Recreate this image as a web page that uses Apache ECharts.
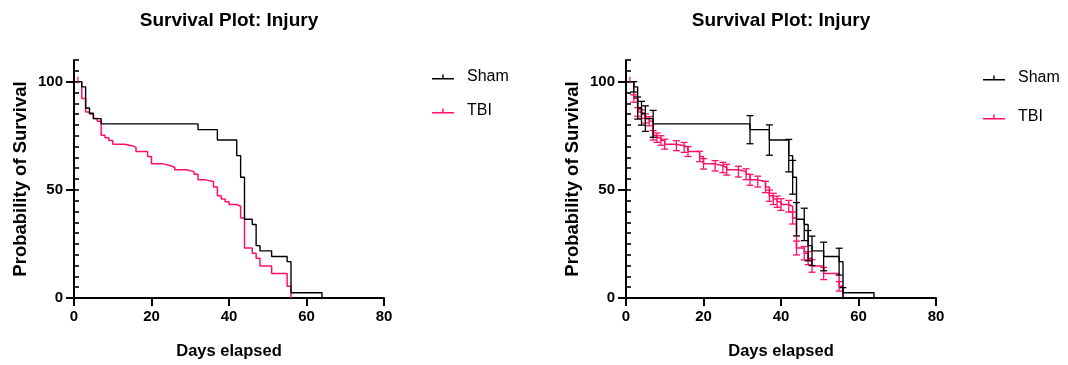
<!DOCTYPE html>
<html><head><meta charset="utf-8">
<script src="https://cdn.jsdelivr.net/npm/echarts@6/dist/echarts.min.js"></script>
<style>html,body{margin:0;padding:0;background:#fff}#c{width:1068px;height:365px}</style>
</head><body><div id="c"></div>
<script>
// ---- data ----
const shamDays = [0, 2, 3, 4, 5, 7, 32, 37, 42, 43, 44, 46, 47, 48, 51, 55, 56, 64];
const shamSurv = [100, 97.6, 87.8, 85.4, 82.9, 80.5, 77.8, 73.0, 65.8, 55.8, 36.4, 34.0, 24.2, 21.8, 19.2, 16.8, 2.4, 0];
const shamSE   = [0, 2.4, 5.1, 5.5, 5.9, 6.2, 6.5, 7.0, 7.5, 7.8, 7.7, 7.5, 7.0, 6.8, 6.6, 6.2, 2.4, 0];

const tbiDays = [0, 2, 3, 4, 5, 6, 7, 8, 9, 10, 13, 15, 16, 19, 20, 23, 25, 26, 29, 31, 32, 34, 36, 37, 38, 39, 40, 42, 43, 44, 46, 47, 48, 51, 55, 56];
const tbiSurv = [100, 92.2, 86.0, 85.0, 83.0, 81.7, 75.2, 74.1, 72.8, 71.1, 70.4, 69.6, 67.7, 65.4, 62.0, 61.1, 60.3, 59.3, 58.4, 57.2, 54.6, 53.8, 51.3, 47.3, 45.8, 44.5, 43.2, 42.4, 37.0, 23.1, 20.7, 18.4, 14.8, 11.3, 5.4, 0];
const tbiSE   = [0, 1.7, 2.0, 2.0, 2.1, 2.1, 2.2, 2.2, 2.2, 2.3, 2.3, 2.3, 2.3, 2.4, 2.4, 2.4, 2.4, 2.5, 2.5, 2.5, 2.5, 2.5, 2.6, 2.6, 2.6, 2.6, 2.7, 2.7, 2.8, 3.2, 3.1, 3.0, 2.9, 2.8, 2.2, 0];

const tbiCensorDays = [1];
const tbiCensorSurv = [100];

const seriesNames = ['Sham', 'TBI'];
const chartTitle = 'Survival Plot: Injury';
const xAxisTitle = 'Days elapsed';
const yAxisTitle = 'Probability of Survival';
const xTicks = [0, 20, 40, 60, 80];
const yMajorTicks = [0, 50, 100];
const yMinorTicks = [0, 5, 10, 15, 20, 25, 30, 35, 40, 45, 50, 55, 60, 65, 70, 75, 80, 85, 90, 95, 100, 105, 110];

// ---- styling ----
const FONT = "'Liberation Sans', Arial, Helvetica, sans-serif";
const BLACK = '#000000';
const PINK = '#FF0F6A';
const gridsPos = [{left: 74, top: 60, width: 310, height: 238}, {left: 626, top: 60, width: 310, height: 238}];
const legendPos = [{left: 427, top: 64, gap: 18}, {left: 978, top: 65, gap: 23}];
const legendIcon = 'path://M0,3.6h22v1.4H0z M10.3,0h1.4v5H10.3z';

const pairs = (xs, ys) => xs.map((x, i) => [x, ys[i]]);
const triples = (xs, ys, es) => xs.map((x, i) => [x, ys[i], es[i]]).filter(d => d[2] > 0);

function errRenderer(color) {
  return function (params, api) {
    const x = api.value(0), y = api.value(1), e = api.value(2);
    const top = api.coord([x, y + e]);
    const bot = api.coord([x, y - e]);
    const w = 3.5;
    const st = {stroke: color, lineWidth: 1.3};
    return {type: 'group', children: [
      {type: 'line', shape: {x1: top[0], y1: top[1], x2: bot[0], y2: bot[1]}, style: st},
      {type: 'line', shape: {x1: top[0] - w, y1: top[1], x2: top[0] + w, y2: top[1]}, style: st},
      {type: 'line', shape: {x1: bot[0] - w, y1: bot[1], x2: bot[0] + w, y2: bot[1]}, style: st}
    ]};
  };
}

const titles = [], grids = [], xAxes = [], yAxes = [], legends = [], series = [];
for (let g = 0; g < 2; g++) {
  const p = gridsPos[g];
  grids.push({left: p.left, top: p.top, width: p.width, height: p.height, containLabel: false});
  titles.push({text: chartTitle, left: p.left + p.width / 2 - 5, top: 6, textAlign: 'center',
    textStyle: {fontFamily: FONT, fontSize: 19, fontWeight: 'bold', color: BLACK}});
  xAxes.push({type: 'value', gridIndex: g, min: 0, max: 80, interval: 20,
    name: xAxisTitle, nameLocation: 'middle', nameGap: 45,
    nameTextStyle: {fontFamily: FONT, fontSize: 16.5, fontWeight: 'bold', color: BLACK},
    axisLine: {show: true, onZero: false, lineStyle: {color: BLACK, width: 2.2}},
    axisTick: {show: true, length: 8, lineStyle: {color: BLACK, width: 2}},
    axisLabel: {fontFamily: FONT, fontSize: 15, fontWeight: 'bold', color: BLACK, margin: 11},
    splitLine: {show: false}});
  yAxes.push({type: 'value', gridIndex: g, min: 0, max: 110, interval: 10,
    name: yAxisTitle, nameLocation: 'middle', nameGap: 44, nameRotate: 90,
    nameTextStyle: {fontFamily: FONT, fontSize: 18.5, fontWeight: 'bold', color: BLACK},
    axisLine: {show: true, onZero: false, lineStyle: {color: BLACK, width: 2}},
    axisTick: {show: true, length: 8, customValues: yMajorTicks, lineStyle: {color: BLACK, width: 2}},
    axisLabel: {fontFamily: FONT, fontSize: 15, fontWeight: 'bold', color: BLACK, margin: 11, customValues: yMajorTicks},
    splitLine: {show: false}});
  yAxes.push({type: 'value', gridIndex: g, min: 0, max: 110, interval: 10,
    axisLine: {show: false},
    axisTick: {show: true, length: 5, customValues: yMinorTicks, lineStyle: {color: BLACK, width: 1.6}},
    axisLabel: {show: false},
    splitLine: {show: false}});
  const L = legendPos[g];
  legends.push({left: L.left, top: L.top, orient: 'vertical', itemWidth: 22, itemHeight: 5, itemGap: L.gap,
    icon: legendIcon, selectedMode: false, data: seriesNames,
    textStyle: {fontFamily: FONT, fontSize: 16, color: BLACK, padding: [0, 0, 0, 8]}});

  const yi = g * 2;
  series.push({name: 'TBI', type: 'line', step: 'end', xAxisIndex: g, yAxisIndex: yi, symbol: 'none',
    data: pairs(tbiDays, tbiSurv), color: PINK, itemStyle: {color: PINK},
    lineStyle: {color: PINK, width: 1.5}, z: 3, animation: false});
  series.push({name: 'Sham', type: 'line', step: 'end', xAxisIndex: g, yAxisIndex: yi, symbol: 'none',
    data: pairs(shamDays, shamSurv), color: BLACK, itemStyle: {color: BLACK},
    lineStyle: {color: BLACK, width: 1.4}, z: 4, animation: false});
  series.push({name: 'TBI censored', type: 'scatter', xAxisIndex: g, yAxisIndex: yi,
    data: pairs(tbiCensorDays, tbiCensorSurv), symbol: 'rect', symbolSize: [1.5, 5], symbolOffset: [0, -2.5],
    itemStyle: {color: PINK}, z: 5, animation: false});
  if (g === 1) {
    series.push({name: 'TBI SE', type: 'custom', xAxisIndex: g, yAxisIndex: yi,
      data: triples(tbiDays, tbiSurv, tbiSE), encode: {x: 0, y: 1}, renderItem: errRenderer(PINK), z: 3, animation: false});
    series.push({name: 'Sham SE', type: 'custom', xAxisIndex: g, yAxisIndex: yi,
      data: triples(shamDays, shamSurv, shamSE), encode: {x: 0, y: 1}, renderItem: errRenderer(BLACK), z: 4, animation: false});
  }
}

const chart = echarts.init(document.getElementById('c'), null, {renderer: 'canvas'});
chart.setOption({
  backgroundColor: '#ffffff',
  animation: false,
  title: titles, grid: grids, xAxis: xAxes, yAxis: yAxes, legend: legends, series: series
});
</script>
</body></html>
